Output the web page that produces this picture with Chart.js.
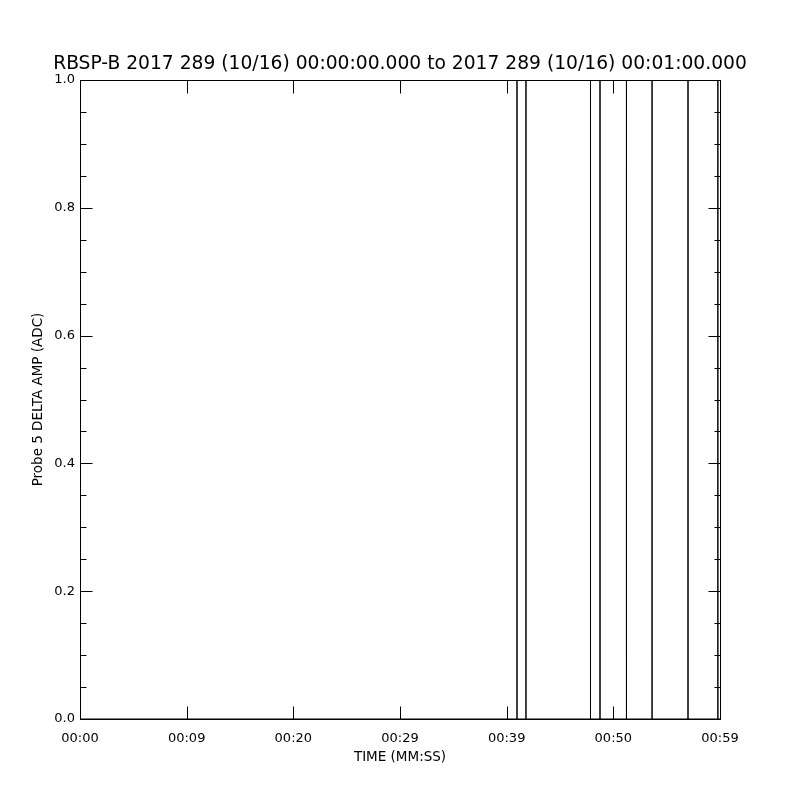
<!DOCTYPE html>
<html>
<head>
<meta charset="utf-8">
<script src="https://cdn.jsdelivr.net/npm/chart.js@4.4.1/dist/chart.umd.min.js"></script>
<style>
  html, body { margin: 0; padding: 0; background: #ffffff; }
  #wrap { width: 800px; height: 800px; position: relative; }
</style>
</head>
<body>
<div id="wrap"><canvas id="c"></canvas></div>
<script>
// ---- data ----
const titleText = "RBSP-B 2017 289 (10/16) 00:00:00.000 to 2017 289 (10/16) 00:01:00.000";
const xAxisTitle = "TIME (MM:SS)";
const yAxisTitle = "Probe 5 DELTA AMP (ADC)";

// x tick positions (seconds) and their printed labels
const xTickValues = [0, 10, 20, 30, 40, 50, 60];
const xTickLabels = ["00:00", "00:09", "00:20", "00:29", "00:39", "00:50", "00:59"];

// y tick values
const yTickValues = [0.0, 0.2, 0.4, 0.6, 0.8, 1.0];

// spike times (seconds) and their peak values (all beyond the plotted range)
const spikeTimes = [40.97, 41.81, 47.86, 48.75, 51.23, 53.63, 57.0, 59.8];
const spikePeaks = [1.5, 1.5, 1.5, 1.5, 1.5, 1.5, 1.5, 1.5];
const baseValue = 0.0;

// ---- build series ----
const seriesPoints = [{x: 0, y: baseValue}];
spikeTimes.forEach((t, i) => {
  seriesPoints.push({x: t, y: baseValue});
  seriesPoints.push({x: t, y: spikePeaks[i]});
  seriesPoints.push({x: t, y: baseValue});
});
seriesPoints.push({x: 60, y: baseValue});

const FONT = "'DejaVu Sans', 'Liberation Sans', sans-serif";

// plugin: IDL-style box with inward ticks on all four sides
const boxTicks = {
  id: 'boxTicks',
  afterDatasetsDraw(chart) {
    const {ctx, chartArea: a, scales} = chart;
    const xs = scales.x, ys = scales.y;
    ctx.save();
    ctx.strokeStyle = '#000';
    ctx.lineWidth = 1;
    const L = a.left + 0.5, R = a.right + 0.5, T = a.top + 0.5, B = a.bottom + 0.5;
    ctx.beginPath();
    ctx.rect(L, T, R - L, B - T);
    xTickValues.forEach(v => {
      const px = Math.round(xs.getPixelForValue(v)) + 0.5;
      ctx.moveTo(px, B); ctx.lineTo(px, B - 13);
      ctx.moveTo(px, T); ctx.lineTo(px, T + 13);
    });
    for (let i = 0; i < yTickValues.length; i++) {
      const v = yTickValues[i];
      const py = Math.round(ys.getPixelForValue(v)) + 0.5;
      ctx.moveTo(L, py); ctx.lineTo(L + 12, py);
      ctx.moveTo(R, py); ctx.lineTo(R - 12, py);
      if (i < yTickValues.length - 1) {
        const step = (yTickValues[i + 1] - v) / 4;
        for (let k = 1; k < 4; k++) {
          const pm = Math.round(ys.getPixelForValue(v + k * step)) + 0.5;
          ctx.moveTo(L, pm); ctx.lineTo(L + 6, pm);
          ctx.moveTo(R, pm); ctx.lineTo(R - 6, pm);
        }
      }
    }
    ctx.stroke();
    ctx.restore();
  }
};

new Chart(document.getElementById('c'), {
  type: 'scatter',
  data: {
    datasets: [{
      data: seriesPoints,
      showLine: true,
      borderColor: '#000000',
      borderWidth: 1,
      pointRadius: 0,
      fill: false,
      tension: 0,
      clip: 0
    }]
  },
  options: {
    responsive: true,
    maintainAspectRatio: false,
    animation: false,
    layout: { padding: 0 },
    plugins: {
      legend: { display: false },
      tooltip: { enabled: false },
      title: {
        display: true,
        text: titleText,
        color: '#000',
        font: { family: FONT, size: 18.7, weight: 'normal', lineHeight: 1.2 },
        padding: { top: 53, bottom: 4.56 }
      }
    },
    scales: {
      x: {
        type: 'linear',
        position: 'bottom',
        min: 0, max: 60,
        afterBuildTicks: s => { s.ticks = xTickValues.map(v => ({value: v})); },
        afterFit: s => { s.height = 81; },
        grid: { display: false, drawTicks: false },
        border: { display: false },
        ticks: {
          color: '#000',
          font: { family: FONT, size: 13 },
          padding: 12,
          maxRotation: 0,
          autoSkip: false,
          callback: (v) => { const i = xTickValues.indexOf(v); return i >= 0 ? xTickLabels[i] : ''; }
        },
        title: {
          display: true,
          text: xAxisTitle,
          color: '#000',
          font: { family: FONT, size: 13.5, lineHeight: 1.2 },
          padding: { top: 0, bottom: 34 }
        }
      },
      y: {
        type: 'linear',
        position: 'left',
        min: 0, max: 1,
        afterBuildTicks: s => { s.ticks = yTickValues.map(v => ({value: v})); },
        afterFit: s => { s.width = 80; },
        grid: { display: false, drawTicks: false },
        border: { display: false },
        ticks: {
          color: '#000',
          font: { family: FONT, size: 13 },
          padding: 5,
          autoSkip: false,
          callback: (v) => Number(v).toFixed(1)
        },
        title: {
          display: true,
          text: yAxisTitle,
          color: '#000',
          font: { family: FONT, size: 13.5, lineHeight: 1.2 },
          padding: { top: 30, bottom: 30 }
        }
      },
      yRight: {
        type: 'linear',
        position: 'right',
        min: 0, max: 1,
        display: true,
        afterFit: s => { s.width = 80; },
        grid: { display: false, drawTicks: false },
        border: { display: false },
        ticks: { display: false }
      }
    }
  },
  plugins: [boxTicks]
});
</script>
</body>
</html>
